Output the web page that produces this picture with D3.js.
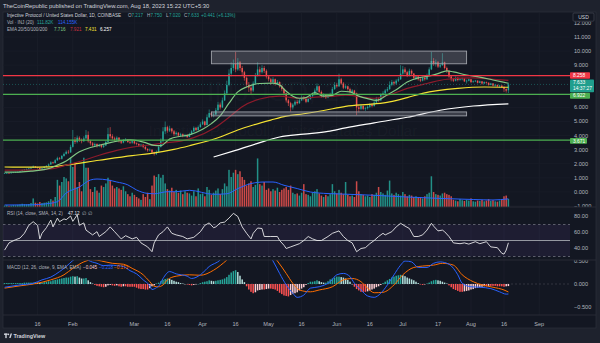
<!DOCTYPE html>
<html><head><meta charset="utf-8">
<script src="https://cdn.jsdelivr.net/npm/d3@7"></script>
<style>
html,body{margin:0;padding:0;background:#1e222d;}
svg{display:block;}
text{font-family:"Liberation Sans",Arial,sans-serif;}
</style></head><body>
<svg id="chart" width="600" height="343"></svg>
<script>
// ---- INJ/USD daily, 1 Jan 2023 .. 18 Aug 2023 (one row per day) ----
const firstDay = "2023-01-01";
// [open, high, low, close]
const ohlc = [
[1.28,1.34,1.27,1.32],[1.32,1.36,1.30,1.34],[1.34,1.37,1.31,1.33],[1.33,1.38,1.32,1.36],[1.36,1.41,1.34,1.38],[1.38,1.43,1.36,1.40],[1.40,1.45,1.38,1.42],[1.42,1.50,1.41,1.47],[1.47,1.59,1.45,1.55],[1.55,1.62,1.52,1.58],
[1.58,1.66,1.55,1.62],[1.62,1.70,1.59,1.66],[1.66,1.78,1.64,1.72],[1.72,1.88,1.70,1.80],[1.80,1.84,1.70,1.74],[1.74,1.78,1.65,1.70],[1.70,1.72,1.52,1.58],[1.58,1.72,1.56,1.68],[1.68,1.82,1.66,1.78],[1.78,1.90,1.74,1.85],
[1.85,2.02,1.82,1.95],[1.95,2.18,1.92,2.10],[2.10,2.15,1.98,2.05],[2.05,2.32,2.02,2.25],[2.25,2.50,2.20,2.40],[2.40,2.48,2.28,2.35],[2.35,2.62,2.30,2.55],[2.55,2.80,2.50,2.70],[2.70,2.95,2.65,2.85],[2.85,2.98,2.70,2.80],
[2.80,3.35,2.78,3.20],[3.20,4.40,3.15,3.70],[3.70,3.90,3.40,3.55],[3.55,4.00,3.45,3.85],[3.85,3.95,3.55,3.70],[3.70,3.80,3.45,3.60],[3.60,3.95,3.55,3.80],[3.80,4.40,3.75,4.05],[4.05,4.30,3.50,3.60],[3.60,3.70,3.30,3.45],
[3.45,3.55,3.20,3.30],[3.30,3.50,3.22,3.40],[3.40,3.45,3.15,3.25],[3.25,3.42,3.18,3.35],[3.35,3.40,3.10,3.20],[3.20,3.38,3.12,3.30],[3.30,3.65,3.25,3.55],[3.55,4.55,3.50,4.10],[4.10,4.60,3.80,3.95],[3.95,4.10,3.70,3.80],
[3.80,3.92,3.55,3.70],[3.70,3.95,3.62,3.85],[3.85,3.90,3.50,3.60],[3.60,3.68,3.40,3.50],[3.50,3.75,3.45,3.65],[3.65,3.82,3.58,3.70],[3.70,3.75,3.48,3.55],[3.55,3.62,3.40,3.50],[3.50,3.68,3.42,3.60],[3.60,3.65,3.38,3.45],
[3.45,3.52,3.30,3.40],[3.40,3.45,3.22,3.30],[3.30,3.42,3.20,3.35],[3.35,3.40,3.10,3.20],[3.20,3.25,2.95,3.05],[3.05,3.10,2.85,2.95],[2.95,3.08,2.88,3.00],[3.00,3.02,2.70,2.80],[2.80,2.85,2.58,2.70],[2.70,2.95,2.62,2.85],
[2.85,3.30,2.80,3.20],[3.20,3.80,3.15,3.60],[3.60,4.60,3.55,4.30],[4.30,5.00,4.10,4.60],[4.60,4.70,4.20,4.35],[4.35,4.70,4.25,4.50],[4.50,4.55,4.15,4.30],[4.30,4.40,3.95,4.10],[4.10,4.30,4.00,4.20],[4.20,4.25,3.90,4.00],
[4.00,4.20,3.92,4.10],[4.10,4.15,3.88,3.95],[3.95,4.12,3.90,4.05],[4.05,4.10,3.82,3.90],[3.90,4.20,3.88,4.10],[4.10,4.40,4.05,4.30],[4.30,4.65,4.25,4.55],[4.55,4.62,4.30,4.40],[4.40,4.72,4.35,4.60],[4.60,4.95,4.55,4.80],
[4.80,5.15,4.75,5.00],[5.00,5.05,4.65,4.75],[4.75,5.50,4.72,5.30],[5.30,5.85,5.25,5.60],[5.60,5.70,5.30,5.45],[5.45,5.65,5.30,5.50],[5.50,5.95,5.45,5.80],[5.80,6.40,5.75,6.20],[6.20,6.35,5.85,6.00],[6.00,6.70,5.95,6.50],
[6.50,7.20,6.45,7.00],[7.00,7.90,6.95,7.60],[7.60,8.70,7.50,8.40],[8.40,9.20,8.20,8.80],[8.80,9.40,8.60,9.10],[9.10,9.95,8.50,8.70],[8.70,9.50,8.60,9.20],[9.20,9.30,8.60,8.80],[8.80,8.95,8.30,8.50],[8.50,8.60,7.90,8.10],
[8.10,8.20,7.40,7.60],[7.60,7.80,7.10,7.40],[7.40,7.60,6.90,7.20],[7.20,7.85,7.10,7.70],[7.70,8.45,7.60,8.30],[8.30,9.20,8.20,8.70],[8.70,8.90,8.30,8.50],[8.50,9.00,8.40,8.80],[8.80,8.95,8.45,8.60],[8.60,8.70,8.05,8.20],
[8.20,8.30,7.85,8.00],[8.00,8.10,7.60,7.80],[7.80,8.15,7.70,8.00],[8.00,8.05,7.55,7.70],[7.70,7.95,7.60,7.80],[7.80,7.85,7.40,7.50],[7.50,7.60,7.15,7.30],[7.30,7.35,6.85,7.00],[7.00,7.05,6.35,6.50],[6.50,6.60,6.10,6.30],
[6.30,6.40,5.70,6.00],[6.00,6.30,5.85,6.20],[6.20,6.50,6.10,6.40],[6.40,6.55,6.20,6.30],[6.30,6.60,6.25,6.50],[6.50,6.85,6.45,6.70],[6.70,6.80,6.50,6.60],[6.60,6.70,6.30,6.40],[6.40,6.70,6.35,6.60],[6.60,6.90,6.55,6.80],
[6.80,7.05,6.70,6.90],[6.90,7.35,6.85,7.20],[7.20,7.70,7.10,7.50],[7.50,7.55,7.00,7.10],[7.10,7.20,6.70,6.80],[6.80,7.00,6.70,6.90],[6.90,6.95,6.60,6.70],[6.70,6.95,6.65,6.85],[6.85,7.05,6.78,6.95],[6.95,7.45,6.90,7.30],
[7.30,7.80,7.25,7.60],[7.60,7.75,7.40,7.50],[7.50,8.40,7.45,8.00],[8.00,8.10,7.60,7.70],[7.70,7.80,7.30,7.40],[7.40,7.62,7.30,7.50],[7.50,7.55,7.20,7.30],[7.30,7.40,7.00,7.10],[7.10,7.30,7.00,7.20],[7.20,7.25,6.90,7.00],
[7.00,7.05,5.45,6.00],[6.00,6.20,5.65,5.90],[5.90,6.25,5.80,6.10],[6.10,6.15,5.80,5.90],[5.90,6.05,5.75,5.95],[5.95,6.15,5.85,6.05],[6.05,6.30,5.95,6.20],[6.20,6.30,6.00,6.10],[6.10,6.45,6.05,6.35],[6.35,6.75,6.30,6.60],
[6.60,6.70,6.40,6.50],[6.50,7.00,6.45,6.90],[6.90,7.15,6.80,7.00],[7.00,7.30,6.90,7.20],[7.20,7.45,7.10,7.30],[7.30,7.85,7.25,7.60],[7.60,7.95,7.50,7.80],[7.80,7.90,7.55,7.70],[7.70,8.00,7.60,7.90],[7.90,8.15,7.80,8.00],
[8.00,9.00,7.95,8.40],[8.40,8.95,8.30,8.70],[8.70,8.85,8.35,8.50],[8.50,8.60,8.15,8.30],[8.30,8.75,8.20,8.60],[8.60,8.70,8.30,8.40],[8.40,8.45,8.00,8.10],[8.10,8.30,7.95,8.20],[8.20,8.25,7.90,8.00],[8.00,8.10,7.80,7.90],
[7.90,8.20,7.85,8.10],[8.10,8.15,7.90,8.00],[8.00,8.40,7.95,8.30],[8.30,8.85,8.25,8.70],[8.70,9.95,8.65,9.30],[9.30,9.50,8.95,9.10],[9.10,9.40,8.90,9.20],[9.20,9.30,8.80,8.90],[8.90,9.15,8.80,9.00],[9.00,9.85,8.95,9.20],
[9.20,9.25,8.70,8.80],[8.80,8.90,8.45,8.60],[8.60,8.65,8.10,8.20],[8.20,8.25,7.85,8.00],[8.00,8.10,7.80,7.90],[7.90,8.20,7.85,8.10],[8.10,8.15,7.85,7.95],[7.95,8.08,7.90,8.00],[8.00,8.12,7.92,8.05],[8.05,8.08,7.80,7.85],
[7.85,7.98,7.70,7.90],[7.90,8.05,7.85,8.00],[8.00,8.02,7.72,7.80],[7.80,7.92,7.75,7.85],[7.85,7.95,7.80,7.90],[7.90,7.92,7.70,7.75],[7.75,7.90,7.72,7.85],[7.85,7.88,7.62,7.70],[7.70,7.85,7.65,7.80],[7.80,7.84,7.68,7.75],
[7.75,7.78,7.55,7.60],[7.60,7.75,7.58,7.70],[7.70,7.72,7.50,7.55],[7.55,7.66,7.48,7.60],[7.60,7.62,7.45,7.50],[7.50,7.60,7.40,7.55],[7.55,7.58,7.38,7.45],[7.45,7.50,7.10,7.30],[7.30,7.35,7.05,7.192],[7.217,7.750,7.020,7.633]
];

// daily volume, thousands of INJ
const volume = [
20,25,18,22,28,25,30,35,45,40, 38,42,55,120,60,50,70,55,60,65,
80,110,90,140,380,300,350,420,400,360, 690,560,620,280,350,220,690,550,550,250,
210,280,230,200,300,280,330,410,380,300, 260,280,260,240,290,220,180,150,200,170,
140,120,100,180,140,200,110,300,440,420, 460,410,450,330,250,230,270,210,240,200,
230,180,220,200,190,160,220,150,260,180, 190,150,280,240,170,200,230,260,180,250,
330,290,520,420,480,520,460,500,420,380, 300,330,360,280,310,680,320,300,350,240,
260,220,250,230,270,210,240,260,280,240, 300,200,180,190,160,200,320,180,170,150,
200,220,250,190,160,140,170,150,180,320, 220,190,240,200,180,350,170,150,160,140,
360,220,180,170,150,160,140,180,170,200, 280,210,190,170,230,370,190,170,200,180,
160,210,180,150,170,160,140,150,130,140, 120,150,180,200,430,210,180,170,160,190,
200,180,170,150,100,90,80,110,95,85, 100,90,120,80,75,90,85,100,80,90,
110,85,95,80,75,90,110,150,160,111.82
];
// 20-day volume average, [day index, thousands]
const volumeAvg = [[0,28],[12,30],[19,45],[24,74],[28,196],[34,280],[39,378],[42,392],[47,378],[51,350],[56,310],[60,238],[65,190],[68,185],[74,214],[78,214],[84,234],[95,178],[101,185],[106,258],[112,328],[118,350],[122,350],[127,304],[133,258],[139,210],[147,188],[153,182],[168,164],[183,140],[198,120],[213,105],[222,98],[229,114.155]];

// moving averages, [day index, price]
const ema20 = [[0,1.40],[6,1.41],[12,1.48],[18,1.58],[21,1.70],[24,1.90],[28,2.20],[34,2.85],[39,3.15],[44,3.35],[48,3.50],[53,3.65],[57,3.70],[61,3.62],[64,3.50],[68,3.30],[71,3.28],[75,3.75],[80,3.95],[84,4.05],[90,4.45],[94,4.85],[98,5.40],[102,6.30],[106,7.10],[110,7.45],[116,7.70],[122,7.72],[125,7.60],[128,7.15],[131,6.80],[134,6.65],[137,6.70],[141,7.05],[145,6.80],[149,6.85],[153,7.15],[157,7.10],[161,6.80],[165,6.62],[169,6.50],[174,6.90],[178,7.25],[183,7.80],[188,8.10],[192,8.20],[197,8.40],[201,8.60],[204,8.52],[210,8.30],[216,8.15],[222,7.95],[229,7.716]];
const ema50 = [[0,1.55],[10,1.55],[21,1.64],[28,1.90],[36,2.25],[43,2.60],[51,2.95],[58,3.18],[66,3.33],[74,3.50],[80,3.60],[86,3.85],[95,4.50],[102,5.30],[108,6.05],[116,6.60],[125,6.80],[133,6.65],[140,6.72],[148,6.78],[155,6.88],[162,6.75],[168,6.65],[175,6.90],[183,7.35],[192,7.70],[201,8.00],[213,8.10],[222,8.00],[229,7.921]];
const ema100 = [[0,1.77],[10,1.76],[21,1.78],[28,1.90],[43,2.25],[58,2.58],[66,2.72],[77,3.02],[84,3.28],[98,3.90],[106,4.40],[113,4.75],[121,5.10],[128,5.38],[136,5.55],[145,5.78],[155,6.08],[168,6.25],[175,6.40],[183,6.70],[190,7.00],[206,7.35],[218,7.45],[229,7.431]];
const ema200 = [[95,2.48],[105,2.95],[115,3.45],[125,3.90],[136,4.10],[147,4.30],[155,4.55],[168,4.90],[183,5.30],[198,5.80],[213,6.10],[229,6.257]];

// RSI(14), [day index, value]
const rsi = [[0,38],[2,47],[5,51],[7,53],[9,59],[11,69],[13,73.5],[15,69],[16,52],[17,59],[19,66],[21,75.6],[22,67],[24,78],[25,73.5],[27,77],[28,76],[30,80.6],[31,74],[33,82],[34,69],[36,72],[37,63],[40,57],[42,61],[43,55],[46,61],[48,67],[50,61],[53,52],[55,56],[58,52],[60,54],[62,47],[65,42],[67,36],[68,47],[70,57],[72,61],[74,67],[76,59],[78,57],[81,55],[83,52],[86,54],[89,61],[91,69],[93,72],[95,66],[96,67],[98,72],[100,73],[102,78],[104,84],[106,80],[108,67],[110,59],[112,52],[113,59],[115,65.6],[117,65],[118,55],[121,55],[124,55],[125,50],[127,44],[128,40],[130,42],[132,44],[134,46],[136,50],[138,55],[140,52],[142,50],[144,50],[147,55],[149,59],[152,62],[154,55],[156,50],[158,47],[160,36],[162,40],[164,41],[166,46],[168,50],[170,55],[172,59],[173,57],[176,61],[178,67],[180,71.5],[182,68],[184,65],[186,55],[188,55],[190,57],[192,63],[194,71.5],[195,68],[197,62],[199,63],[200,61],[202,55],[204,47],[207,46],[209,47],[211,45.5],[214,48.5],[216,46],[219,48.5],[221,42],[224,41],[226,34],[227,33],[228,38],[229,47.12]];

// MACD(12,26,9): line and signal as [day index, value], histogram one per day
const macdLine = [[0,-0.07],[7,-0.02],[13,0.015],[17,0.09],[21,0.15],[25,0.27],[28,0.38],[31,0.51],[34,0.60],[36,0.62],[38,0.52],[42,0.45],[45,0.40],[48,0.41],[51,0.40],[54,0.38],[57,0.29],[60,0.22],[63,0.09],[66,-0.04],[67,-0.12],[69,-0.08],[70,-0.05],[72,0.12],[75,0.27],[78,0.22],[83,0.17],[85,0.12],[89,0.20],[93,0.38],[98,0.52],[102,0.75],[106,1.05],[110,1.10],[115,0.95],[119,0.72],[122,0.50],[125,0.23],[128,-0.02],[131,-0.20],[133,-0.29],[136,-0.24],[139,-0.09],[143,-0.06],[148,0.05],[151,0.20],[154,0.23],[157,0.16],[159,0.015],[162,-0.13],[165,-0.26],[168,-0.29],[171,-0.20],[174,-0.02],[177,0.20],[180,0.41],[182,0.50],[185,0.48],[188,0.36],[192,0.36],[195,0.45],[198,0.48],[202,0.43],[206,0.20],[208,0.015],[212,-0.06],[216,-0.07],[221,-0.10],[225,-0.17],[228,-0.22],[229,-0.218]];
const signalLine = [[0,-0.09],[7,-0.04],[13,0.0],[21,0.09],[27,0.20],[31,0.34],[36,0.48],[40,0.53],[44,0.50],[49,0.45],[54,0.43],[58,0.34],[63,0.20],[66,0.05],[68,-0.05],[70,-0.06],[72,-0.02],[74,0.09],[78,0.17],[84,0.20],[89,0.19],[95,0.30],[101,0.52],[106,0.75],[112,0.93],[118,0.85],[122,0.62],[124,0.50],[128,0.23],[131,0.015],[134,-0.13],[139,-0.17],[143,-0.13],[149,-0.06],[154,0.09],[158,0.12],[162,0.05],[165,-0.09],[168,-0.19],[172,-0.18],[177,-0.02],[181,0.20],[186,0.36],[190,0.39],[195,0.41],[199,0.45],[204,0.41],[208,0.20],[213,0.05],[217,-0.02],[222,-0.07],[227,-0.13],[229,-0.173]];
const macdHist = [
0.02,0.02,0.02,0.02,0.02,0.02,0.02,0.02,0.02,0.03, 0.03,0.03,0.03,0.03,0.04,0.03,0.02,0.03,0.04,0.05,
0.06,0.06,0.08,0.09,0.10,0.11,0.12,0.13,0.14,0.14, 0.16,0.17,0.16,0.17,0.14,0.12,0.12,0.13,0.08,0.04,
0.01,-0.02,-0.04,-0.05,-0.06,-0.07,-0.06,-0.03,-0.02,-0.03, -0.04,-0.03,-0.05,-0.06,-0.05,-0.05,-0.06,-0.06,-0.06,-0.06,
-0.08,-0.10,-0.11,-0.11,-0.12,-0.12,-0.09,-0.05,-0.03,0.01, 0.03,0.06,0.09,0.11,0.12,0.11,0.09,0.07,0.05,0.04,
0.02,0.01,0.00,-0.01,-0.02,-0.03,-0.02,-0.01,0.00,0.02, 0.04,0.05,0.06,0.08,0.07,0.06,0.07,0.08,0.09,0.10,
0.12,0.15,0.20,0.25,0.28,0.30,0.26,0.18,0.10,0.04, -0.05,-0.12,-0.17,-0.20,-0.18,-0.14,-0.13,-0.12,-0.12,-0.11,
-0.10,-0.10,-0.11,-0.12,-0.15,-0.19,-0.22,-0.25,-0.26,-0.27, -0.24,-0.21,-0.20,-0.18,-0.14,-0.10,-0.07,-0.02,0.02,0.05,
0.05,0.06,0.08,0.06,0.04,0.03,0.03,0.06,0.10,0.12, 0.14,0.16,0.16,0.15,0.14,0.12,0.09,0.05,0.00,-0.06,
-0.11,-0.14,-0.17,-0.17,-0.17,-0.16,-0.14,-0.12,-0.10,-0.07, -0.05,-0.02,0.02,0.05,0.08,0.11,0.14,0.16,0.18,0.19,
0.20,0.19,0.17,0.14,0.12,0.10,0.08,0.05,0.02,-0.01, -0.02,-0.01,0.01,0.03,0.06,0.08,0.09,0.08,0.07,0.05,
0.03,0.01,-0.03,-0.07,-0.11,-0.13,-0.15,-0.17,-0.17,-0.16, -0.15,-0.14,-0.12,-0.11,-0.09,-0.08,-0.07,-0.06,-0.05,-0.05,
-0.04,-0.04,-0.04,-0.04,-0.05,-0.05,-0.05,-0.06,-0.05,-0.045
];

// drawn levels and zones
const levelPrices = [8.258, 6.922, 3.671];
const levelColors = ["#f23645", "#4caf50", "#4caf50"];
const zoneFrom = ["2023-04-05", "2023-04-05"];
const zoneTo   = ["2023-07-30", "2023-07-30"];
const zoneTop  = [10.00, 5.68];
const zoneBottom = [9.10, 5.40];

// axis ticks
const priceTicks = [-1,0,1,2,3,4,5,6,7,8,9,10,11,12];
const rsiTicks = [80,60,40];
const macdTicks = [0.5,0,-0.5];
const timeTickDates = ["2023-01-16","2023-02-01","2023-03-01","2023-03-16","2023-04-01","2023-04-16","2023-05-01","2023-05-16","2023-06-01","2023-06-16","2023-07-01","2023-07-17","2023-08-01","2023-08-16","2023-09-01"];
const timeTickLabels = ["16","Feb","Mar","16","Apr","16","May","16","Jun","16","Jul","17","Aug","16","Sep"];

// ---------------------------------------------------------------
const svg = d3.select("#chart");
const parse = s => new Date(s + "T00:00:00Z");
const t0 = parse(firstDay).getTime();
const dayDate = i => new Date(t0 + i * 864e5);

const L = 3, R = 596, TOP = 12, BOT = 328, AX = 570;
const mainPane = [12, 207], rsiPane = [207, 260], macdPane = [260, 315];

const x = d3.scaleUtc().domain([parse("2023-01-01"), parse("2023-08-01")]).range([4.6, 471]);
const yP = d3.scaleLinear().domain([0, 10]).range([191.9, 51.1]);
const yV = d3.scaleLinear().domain([0, 700]).range([207, 157]);
const yR = d3.scaleLinear().domain([40, 80]).range([248.5, 216.5]);
const yM = d3.scaleLinear().domain([-0.5, 0.5]).range([307, 261]);

const UP = "#26a69a", DOWN = "#ef5350", AXTXT = "#b2b5be";

// frame
svg.append("rect").attr("width", 600).attr("height", 343).attr("fill", "#1e222d");
svg.append("rect").attr("x", L).attr("y", TOP).attr("width", R - L).attr("height", BOT - TOP)
  .attr("fill", "#131722").attr("stroke", "#2a2e39").attr("stroke-width", 0.8);

const defs = svg.append("defs");
function clip(id, y0, y1, x0 = L, x1 = AX) {
  defs.append("clipPath").attr("id", id).append("rect")
    .attr("x", x0).attr("y", y0).attr("width", x1 - x0).attr("height", y1 - y0);
  return `url(#${id})`;
}
const cMain = clip("cMain", mainPane[0], mainPane[1]);
const cRsi = clip("cRsi", rsiPane[0], rsiPane[1]);
const cMacd = clip("cMacd", macdPane[0], macdPane[1]);
const cMacdAx = clip("cMacdAx", macdPane[0], macdPane[1], AX, R);
const cPriceAx = clip("cPriceAx", 21.5, mainPane[1], AX, R);

// grid
const grid = svg.append("g").attr("stroke", "#1c202b").attr("stroke-width", 0.8);
timeTickDates.forEach(d => {
  const xx = x(parse(d));
  if (xx < AX) grid.append("line").attr("x1", xx).attr("x2", xx).attr("y1", TOP).attr("y2", macdPane[1]);
});
const gMainGrid = svg.append("g").attr("clip-path", cMain).attr("stroke", "#191d28").attr("stroke-width", 0.8);
priceTicks.forEach(p => gMainGrid.append("line").attr("x1", L).attr("x2", AX).attr("y1", yP(p)).attr("y2", yP(p)));

// watermark
const wm = svg.append("g").attr("fill", "#b2b5be").attr("fill-opacity", 0.05).attr("text-anchor", "middle");
wm.append("text").attr("x", 283).attr("y", 101).attr("font-size", 28).text("INJUSD, 1D");
wm.append("text").attr("x", 283).attr("y", 136).attr("font-size", 15.5).text("Injective Protocol / United States Dollar");

// ---- main pane ----
const gMain = svg.append("g").attr("clip-path", cMain);
const bw = 1.5;

// volume
gMain.append("g").selectAll("rect").data(volume).join("rect")
  .attr("x", (v, i) => x(dayDate(i)) - bw / 2).attr("width", bw)
  .attr("y", v => yV(v)).attr("height", v => yV(0) - yV(v))
  .attr("fill", (v, i) => ohlc[i][3] >= ohlc[i][0] ? UP : DOWN).attr("fill-opacity", 0.85);
gMain.append("path").datum(volumeAvg)
  .attr("d", d3.line().x(p => x(dayDate(p[0]))).y(p => yV(p[1])).curve(d3.curveMonotoneX))
  .attr("fill", "none").attr("stroke", "#2962ff").attr("stroke-width", 1);

// candles
const gC = gMain.append("g");
ohlc.forEach((k, i) => {
  const [o, h, l, c] = k;
  const xx = x(dayDate(i));
  const col = c >= o ? UP : DOWN;
  gC.append("line").attr("x1", xx).attr("x2", xx).attr("y1", yP(h)).attr("y2", yP(l))
    .attr("stroke", col).attr("stroke-width", 0.6);
  const yt = yP(Math.max(o, c)), yb = yP(Math.min(o, c));
  gC.append("rect").attr("x", xx - bw / 2).attr("width", bw)
    .attr("y", yt).attr("height", Math.max(0.6, yb - yt)).attr("fill", col);
});

// EMAs
const emaLine = d3.line().x(p => x(dayDate(p[0]))).y(p => yP(p[1])).curve(d3.curveMonotoneX);
[[ema200, "#ffffff"], [ema100, "#f5e332"], [ema50, "#8e1b2b"], [ema20, "#81c784"]].forEach(([pts, col]) => {
  gMain.append("path").datum(pts).attr("d", emaLine).attr("fill", "none")
    .attr("stroke", col).attr("stroke-width", 1.2);
});

// zones
zoneFrom.forEach((f, i) => {
  const x0 = x(parse(f)), x1 = x(parse(zoneTo[i]));
  gMain.append("rect").attr("x", x0).attr("y", yP(zoneTop[i]))
    .attr("width", x1 - x0).attr("height", yP(zoneBottom[i]) - yP(zoneTop[i]))
    .attr("fill", "#b2b5be").attr("fill-opacity", 0.25)
    .attr("stroke", "#9ea1a9").attr("stroke-width", 0.9);
});

// horizontal levels
levelPrices.forEach((p, i) => {
  gMain.append("line").attr("x1", L).attr("x2", AX).attr("y1", yP(p)).attr("y2", yP(p))
    .attr("stroke", levelColors[i]).attr("stroke-width", 1.2);
});

// last price line
const last = ohlc[ohlc.length - 1];
gMain.append("line").attr("x1", L).attr("x2", AX).attr("y1", yP(last[3])).attr("y2", yP(last[3]))
  .attr("stroke", UP).attr("stroke-opacity", 0.6).attr("stroke-width", 0.7).attr("stroke-dasharray", "1,2");

// price-axis badges (level labels and last price); tick labels under them are left out
const badges = [
  {top: 72.2, h: 6.6, w: 20, col: levelColors[0], lines: [levelPrices[0]]},
  {top: 79.6, h: 12.6, w: 24, col: "#1f9e8d", lines: [last[3], "14:37:27"]},
  {top: 92.8, h: 6.0, w: 20, col: levelColors[1], lines: [levelPrices[1]]},
  {top: 138.0, h: 5.8, w: 17, col: levelColors[2], lines: [levelPrices[2]]}
];
const covered = yy => badges.some(b => yy + 2.2 > b.top && yy - 2.2 < b.top + b.h);

// price axis
const fmt3 = d3.format(".3f");
const gPA = svg.append("g").attr("clip-path", cPriceAx).attr("font-size", 5.6).attr("fill", AXTXT);
priceTicks.filter(p => !covered(yP(p)))
  .forEach(p => gPA.append("text").attr("x", 574).attr("y", yP(p)).attr("dy", "0.35em").text(fmt3(p)));

badges.forEach(b => {
  const g = svg.append("g");
  g.append("rect").attr("x", AX).attr("y", b.top).attr("width", b.w).attr("height", b.h)
    .attr("rx", 0.8).attr("fill", b.col);
  b.lines.forEach((t, j) => g.append("text").attr("x", AX + 3).attr("y", b.top + 4.6 + j * 5.8)
    .attr("font-size", 4.9).attr("fill", "#ffffff").text(typeof t === "number" ? fmt3(t) : t));
});

// USD box
svg.append("rect").attr("x", 573).attr("y", 13).attr("width", 21).attr("height", 8.2).attr("rx", 1)
  .attr("fill", "#131722").attr("stroke", "#434651").attr("stroke-width", 0.7);
svg.append("text").attr("x", 583.5).attr("y", 18.9).attr("text-anchor", "middle")
  .attr("font-size", 5).attr("fill", "#d1d4dc").text("USD");

// ---- RSI pane ----
const gR = svg.append("g").attr("clip-path", cRsi);
gR.append("rect").attr("x", L).attr("width", AX - L).attr("y", yR(70)).attr("height", yR(30) - yR(70))
  .attr("fill", "#7e57c2").attr("fill-opacity", 0.1);
[70, 30].forEach(v => gR.append("line").attr("x1", L).attr("x2", AX).attr("y1", yR(v)).attr("y2", yR(v))
  .attr("stroke", "#787b86").attr("stroke-width", 0.7).attr("stroke-dasharray", "2.5,2.5"));
gR.append("line").attr("x1", L).attr("x2", AX).attr("y1", yR(50)).attr("y2", yR(50))
  .attr("stroke", "#9598a1").attr("stroke-width", 1.1);
gR.append("path").datum(rsi)
  .attr("d", d3.line().x(p => x(dayDate(p[0]))).y(p => yR(p[1])))
  .attr("fill", "none").attr("stroke", "#e8e8ea").attr("stroke-width", 0.9);
const gRA = svg.append("g").attr("font-size", 5.6).attr("fill", AXTXT);
rsiTicks.forEach(v => gRA.append("text").attr("x", 574).attr("y", yR(v)).attr("dy", "0.35em").text(d3.format(".2f")(v)));

// ---- MACD pane ----
const gM = svg.append("g").attr("clip-path", cMacd);
gM.append("line").attr("x1", L).attr("x2", AX).attr("y1", yM(0)).attr("y2", yM(0))
  .attr("stroke", "#787b86").attr("stroke-opacity", 0.5).attr("stroke-width", 0.6).attr("stroke-dasharray", "2,2");
gM.append("g").selectAll("rect").data(macdHist).join("rect")
  .attr("x", (v, i) => x(dayDate(i)) - bw / 2).attr("width", bw)
  .attr("y", v => yM(Math.max(0, v))).attr("height", v => Math.max(0.4, Math.abs(yM(v) - yM(0))))
  .attr("fill", (v, i) => {
    const prev = i > 0 ? macdHist[i - 1] : v;
    if (v >= 0) return v >= prev ? "#26a69a" : "#b2dfdb";
    return v <= prev ? "#ff5252" : "#ffcdd2";
  });
const mLine = d3.line().x(p => x(dayDate(p[0]))).y(p => yM(p[1])).curve(d3.curveMonotoneX);
gM.append("path").datum(signalLine).attr("d", mLine).attr("fill", "none").attr("stroke", "#ff6d00").attr("stroke-width", 1);
gM.append("path").datum(macdLine).attr("d", mLine).attr("fill", "none").attr("stroke", "#2962ff").attr("stroke-width", 1);
const gMA = svg.append("g").attr("clip-path", cMacdAx).attr("font-size", 5.6).attr("fill", AXTXT);
macdTicks.forEach(v => gMA.append("text").attr("x", 574).attr("y", yM(v)).attr("dy", "0.35em").text(fmt3(v)));

// pane separators
[rsiPane[0], macdPane[0], macdPane[1]].forEach(yy => svg.append("line")
  .attr("x1", L).attr("x2", R).attr("y1", yy).attr("y2", yy).attr("stroke", "#2a2e39").attr("stroke-width", 0.9));

// time axis
const gT = svg.append("g").attr("font-size", 5.6).attr("fill", AXTXT).attr("text-anchor", "middle");
timeTickDates.forEach((d, i) => gT.append("text").attr("x", x(parse(d))).attr("y", 326).text(timeTickLabels[i]));

// ---- legends ----
const TXT = "#d1d4dc", GREY = "#b2b5be";
svg.append("text").attr("x", 3).attr("y", 8).attr("font-size", 5.8).attr("fill", TXT)
  .text("TheCoinRepublic published on TradingView.com, Aug 18, 2023 15:22 UTC+5:30");

function legendItems(y, items, size = 4.6) {
  items.forEach(([xx, t, col]) => svg.append("text").attr("x", xx).attr("y", y)
    .attr("font-size", size).attr("fill", col).text(t));
}
legendItems(17.4, [[7, "Injective Protocol / United States Dollar, 1D, COINBASE", TXT],
  [128, "O", GREY], [131.5, "7.217", UP], [147, "H", GREY], [150.5, "7.750", UP],
  [166, "L", GREY], [169, "7.020", UP], [184, "C", GREY], [187.5, "7.633", UP],
  [201, "+0.441 (+6.13%)", UP]]);
legendItems(24.4, [[7, "Vol · INJ (20)", GREY], [37, "111.82K", UP], [58, "114.155K", "#2962ff"]]);
legendItems(31.2, [[7, "EMA 20/50/100/200", GREY], [54, "7.716", "#81c784"], [70, "7.921", "#c8313f"],
  [85, "7.431", "#f5e332"], [100, "6.257", "#ffffff"]]);
legendItems(214.5, [[7, "RSI (14, close, SMA, 14, 2)", GREY], [68, "47.12", "#e8e8ea"], [82, "∅", GREY], [88, "∅", GREY]]);
legendItems(268.5, [[7, "MACD (12, 26, close, 9, EMA, EMA)", GREY], [83, "−0.045", "#ffcdd2"],
  [99, "−0.218", "#2962ff"], [114, "−0.173", "#ff6d00"]]);

// footer logo
const logo = svg.append("g").attr("fill", "#d1d4dc");
logo.append("rect").attr("x", 4).attr("y", 333.5).attr("width", 3.6).attr("height", 1.4);
logo.append("rect").attr("x", 5.3).attr("y", 333.5).attr("width", 1.4).attr("height", 4.6);
logo.append("circle").attr("cx", 8.4).attr("cy", 334.4).attr("r", 0.8);
logo.append("path").attr("d", "M9.2,338.1 L10.6,333.5 L12,333.5 L10.6,338.1 Z");
svg.append("text").attr("x", 13.5).attr("y", 338).attr("font-size", 5.4).attr("font-weight", "bold")
  .attr("fill", "#d1d4dc").text("TradingView");
</script></body></html>
